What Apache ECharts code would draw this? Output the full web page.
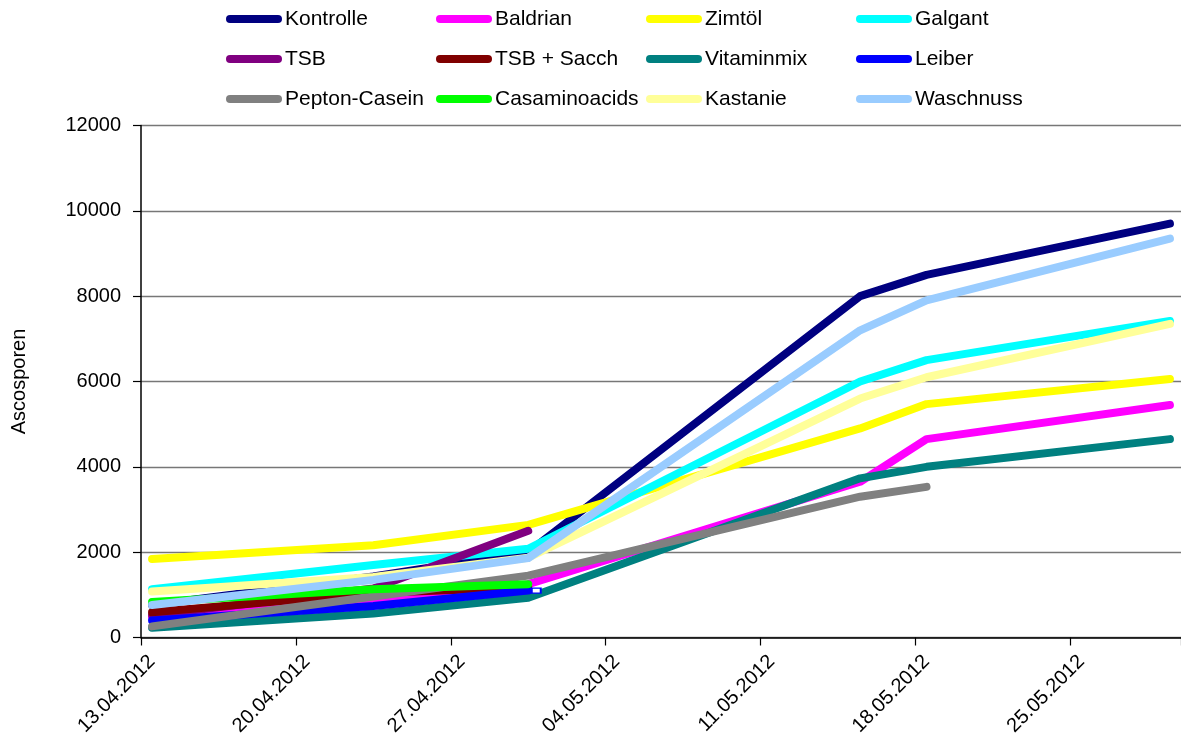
<!DOCTYPE html>
<html>
<head>
<meta charset="utf-8">
<script src="https://cdn.jsdelivr.net/npm/echarts@6/dist/echarts.min.js"></script>
<style>
  html, body { margin: 0; padding: 0; background: #ffffff; }
  #chart { width: 1181px; height: 744px; }
</style>
</head>
<body>
<div id="chart"></div>
<script>
// Sampling dates (counts were taken on these days)
const sampleDates = ['13.04.2012', '23.04.2012', '30.04.2012', '15.05.2012', '18.05.2012', '29.05.2012'];

// Ascospore counts per treatment, in sampling-date order
const kontrolle     = [760, 1430, 2000, 8000, 8500, 9700];
const baldrian      = [480, 850, 1250, 3650, 4650, 5450];
const zimtoel       = [1840, 2160, 2640, 4900, 5470, 6060];
const galgant       = [1130, 1700, 2080, 6000, 6500, 7420];
const tsb           = [520, 1150, 2500];
const tsbSacch      = [590, 1040, 1180];
const vitaminmix    = [230, 560, 930, 3730, 4000, 4650];
const leiber        = [400, 740, 1100];
const peptonCasein  = [260, 960, 1450, 3300, 3530];
const casaminoacids = [830, 1130, 1250];
const kastanie      = [1080, 1420, 1870, 5600, 6100, 7350];
const waschnuss     = [760, 1350, 1860, 7200, 7900, 9350];

const seriesNames = ['Kontrolle', 'Baldrian', 'Zimtöl', 'Galgant',
                     'TSB', 'TSB + Sacch', 'Vitaminmix', 'Leiber',
                     'Pepton-Casein', 'Casaminoacids', 'Kastanie', 'Waschnuss'];
const seriesValues = [kontrolle, baldrian, zimtoel, galgant,
                      tsb, tsbSacch, vitaminmix, leiber,
                      peptonCasein, casaminoacids, kastanie, waschnuss];
const seriesColors = ['#000080', '#FF00FF', '#FFFF00', '#00FFFF',
                      '#800080', '#800000', '#008080', '#0000FF',
                      '#808080', '#00FF00', '#FFFF99', '#99CCFF'];

// Value axis ticks
const yMin = 0, yMax = 12000, yStep = 2000;

// Date axis: one category per day, labelled every 7 days
const axisStart = '13.04.2012';
const axisEnd = '29.05.2012';
const labelEveryDays = 7;

function parseDate(s) {
  const [d, m, y] = s.split('.').map(Number);
  return Date.UTC(y, m - 1, d);
}
function formatDate(t) {
  const d = new Date(t);
  const pad = n => String(n).padStart(2, '0');
  return pad(d.getUTCDate()) + '.' + pad(d.getUTCMonth() + 1) + '.' + d.getUTCFullYear();
}
const dayCategories = [];
for (let t = parseDate(axisStart); t <= parseDate(axisEnd); t += 86400000) {
  dayCategories.push(formatDate(t));
}

const fontFamily = '"Liberation Sans", Arial, sans-serif';

const series = seriesNames.map((name, i) => {
  const data = seriesValues[i].map((v, k) => [sampleDates[k], v]);
  const s = {
    name: name,
    type: 'line',
    color: seriesColors[i],
    symbol: 'none',
    lineStyle: { width: 8, color: seriesColors[i], cap: 'round', join: 'round' },
    data: data,
    animation: false
  };
  if (name === 'Leiber') {
    // selected-point handle beside the last Leiber value
    const last = data[data.length - 1];
    s.markPoint = {
      symbol: 'rect',
      symbolSize: [9, 5],
      symbolOffset: [8, 0],
      silent: true,
      label: { show: false },
      itemStyle: { color: '#ffffff', borderColor: '#0000FF', borderWidth: 1.5 },
      data: [{ coord: last }]
    };
  }
  return s;
});

// Four legend columns, three rows each
const pillIcon = 'path://M4 0H52A4 4 0 0 1 52 8H4A4 4 0 0 1 4 0Z';
const legends = [0, 1, 2, 3].map(col => ({
  orient: 'vertical',
  left: 226 + col * 210,
  top: 7,
  itemWidth: 56,
  itemHeight: 8,
  itemGap: 16,
  icon: pillIcon,
  selectedMode: false,
  padding: 0,
  data: [seriesNames[col], seriesNames[col + 4], seriesNames[col + 8]],
  textStyle: { fontSize: 21, lineHeight: 24, color: '#000', fontFamily: fontFamily, padding: [0, 0, 0, -2] }
}));

const chart = echarts.init(document.getElementById('chart'), null, { renderer: 'canvas' });
chart.setOption({
  backgroundColor: '#ffffff',
  animation: false,
  textStyle: { fontFamily: fontFamily },
  legend: legends,
  grid: { left: 141, right: -4, top: 125.5, bottom: 106.5, containLabel: false },
  xAxis: {
    type: 'category',
    data: dayCategories,
    boundaryGap: true,
    axisLine: { show: true, lineStyle: { color: '#000', width: 1.5 } },
    axisTick: { show: true, interval: labelEveryDays - 1, length: 8, lineStyle: { color: '#000', width: 1.2 } },
    axisLabel: {
      interval: labelEveryDays - 1, rotate: 45, margin: 21,
      fontSize: 20, color: '#000', fontFamily: fontFamily
    },
    splitLine: { show: false }
  },
  yAxis: {
    type: 'value',
    min: yMin, max: yMax, interval: yStep,
    name: 'Ascosporen',
    nameLocation: 'middle',
    nameRotate: 90,
    nameGap: 112,
    nameTextStyle: { fontSize: 20, color: '#000', fontFamily: fontFamily },
    axisLine: { show: true, lineStyle: { color: '#000', width: 1.5 } },
    axisTick: { show: true, length: 8, lineStyle: { color: '#000', width: 1.2 } },
    axisLabel: { margin: 20, fontSize: 20, color: '#000', fontFamily: fontFamily, formatter: v => String(v) },
    splitLine: { show: true, lineStyle: { color: '#777777', width: 1.3 } }
  },
  series: series
});
</script>
</body>
</html>
